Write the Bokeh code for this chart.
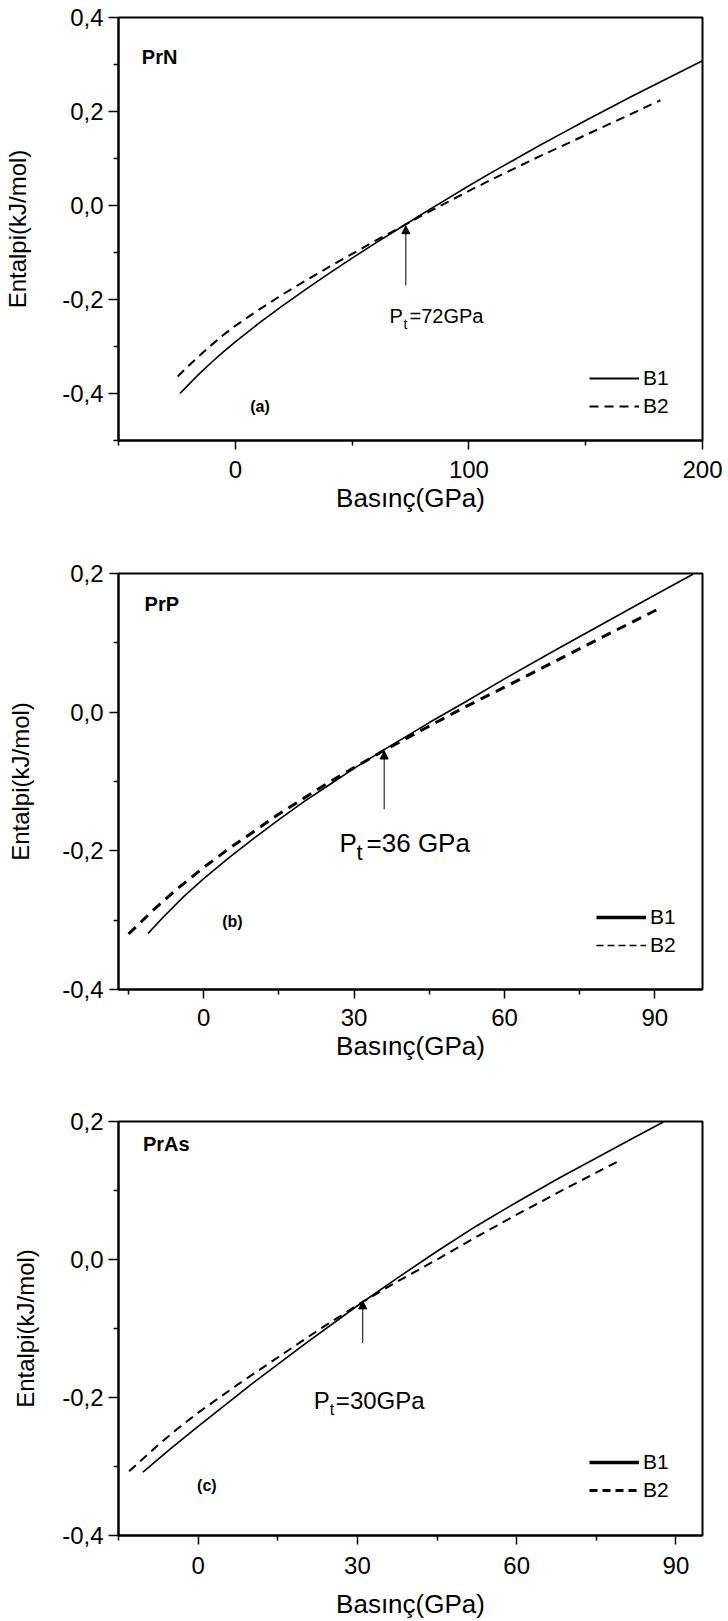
from bokeh.plotting import figure
from bokeh.models import (FixedTicker, CustomJSTickFormatter, Label, Arrow,
                          NormalHead, Legend, LegendItem)
from bokeh.layouts import column
from bokeh.embed import file_html
from bokeh.resources import INLINE

FONT = "Liberation Sans"
NAN = float("nan")

# ---------------- data ----------------
# (a) PrN
a_b1_x = [-23.7, -20, -15, -10, -5, 0, 10, 20, 30, 40, 50, 60, 72, 80, 90, 100,
          110, 120, 130, 140, 150, 160, 170, 180, 190, 200]
a_b1_y = [-0.400, -0.381, -0.356, -0.333, -0.311, -0.290, -0.251, -0.214, -0.179,
          -0.145, -0.112, -0.080, -0.043, -0.018, 0.012, 0.042, 0.071, 0.099,
          0.127, 0.154, 0.181, 0.207, 0.233, 0.258, 0.283, 0.308]
a_b2_x = [-24.7, -20, -15, -10, -5, 0, 10, 20, 30, 40, 50, 60, 72, 80, 90, 100,
          110, 120, 130, 140, 150, 160, 170, 182]
a_b2_y = [-0.364, -0.341, -0.318, -0.296, -0.275, -0.256, -0.222, -0.190, -0.160,
          -0.131, -0.103, -0.075, -0.043, -0.021, 0.005, 0.031, 0.056, 0.080,
          0.104, 0.127, 0.150, 0.173, 0.196, 0.224]
# (b) PrP
b_b1_x = [-11.1, -8, -4, 0, 5, 10, 15, 20, 25, 30, 36, 45, 52, 60, 70, 80, 90, 97.6]
b_b1_y = [-0.319, -0.295, -0.266, -0.240, -0.210, -0.182, -0.155, -0.129, -0.105,
          -0.081, -0.054, -0.015, 0.014, 0.048, 0.089, 0.129, 0.169, 0.199]
b_b2_x = [-15, -10, -5, 0, 5, 10, 15, 20, 25, 30, 36, 45, 52, 60, 70, 80, 91.3]
b_b2_y = [-0.320, -0.285, -0.253, -0.224, -0.197, -0.172, -0.147, -0.124, -0.101,
          -0.080, -0.055, -0.020, 0.007, 0.036, 0.073, 0.110, 0.151]
# (c) PrAs
c_b1_x = [-10.4, -5, 0, 10, 20, 30, 37.5, 45, 52.5, 60, 67.5, 75, 81, 87.8]
c_b1_y = [-0.308, -0.273, -0.242, -0.181, -0.123, -0.067, -0.027, 0.012, 0.049,
          0.083, 0.116, 0.147, 0.172, 0.200]
c_b2_x = [-13, -8, -4, 0, 7.5, 15, 22.5, 30, 37.5, 45, 52.5, 60, 70, 79.8]
c_b2_y = [-0.307, -0.272, -0.246, -0.222, -0.181, -0.142, -0.103, -0.066, -0.032,
          0.000, 0.033, 0.065, 0.106, 0.145]

a_xticks, a_xminor = [0, 100, 200], [-50, 50, 150]
a_yticks, a_yminor = [-0.4, -0.2, 0.0, 0.2, 0.4], [-0.5, -0.3, -0.1, 0.1, 0.3]
bc_xticks, bc_xminor = [0, 30, 60, 90], [-15, 15, 45, 75]
bc_yticks, bc_yminor = [-0.4, -0.2, 0.0, 0.2], [-0.3, -0.1, 0.1]

series_names = ["B1", "B2"]
x_title = "Basınç(GPa)"
y_title = "Entalpi(kJ/mol)"

fmt = CustomJSTickFormatter(code="""
var s = tick.toFixed(1).replace('.', ',');
if (s == '-0,0') { s = '0,0'; }
return s;
""")


def panel(h, xr, yr, xt, xm, yt, ym, bl, br, bt, bb, ylab_std, xlab_std,
          ytick_std, xtick_std, ytick_out):
    p = figure(width=728, height=h, x_range=xr, y_range=yr,
               output_backend="svg", toolbar_location=None,
               min_border_left=bl, min_border_right=br,
               min_border_top=bt, min_border_bottom=bb)
    p.xgrid.visible = False
    p.ygrid.visible = False
    p.outline_line_color = "black"
    p.outline_line_width = 2
    p.outline_line_alpha = 1
    p.background_fill_color = "white"
    p.border_fill_color = "white"
    p.xaxis.ticker = FixedTicker(ticks=xt, minor_ticks=xm)
    p.yaxis.ticker = FixedTicker(ticks=yt, minor_ticks=ym)
    p.yaxis.formatter = fmt
    for ax in (p.xaxis[0], p.yaxis[0]):
        ax.axis_line_width = 2
        ax.axis_line_color = "black"
        ax.major_tick_line_width = 1.5
        ax.minor_tick_line_width = 1.5
        ax.major_tick_out = 9
        ax.major_tick_in = 0
        ax.minor_tick_out = 5
        ax.minor_tick_in = 0
        ax.major_label_text_font = FONT
        ax.major_label_text_font_size = "24px"
        ax.major_label_text_color = "black"
        ax.axis_label_text_font = FONT
        ax.axis_label_text_font_style = "normal"
        ax.axis_label_text_color = "black"
    p.yaxis.major_tick_out = ytick_out
    p.xaxis.axis_label_text_font_size = "26px"
    p.yaxis.axis_label_text_font_size = "24px"
    p.xaxis.axis_label = x_title
    p.yaxis.axis_label = y_title
    p.yaxis.axis_label_standoff = ylab_std
    p.xaxis.axis_label_standoff = xlab_std
    p.yaxis.major_label_standoff = ytick_std
    p.xaxis.major_label_standoff = xtick_std
    return p


def add_texts(p, name, name_xy, tag, tag_xy, pt_xy, pt_rest, pt_size, sub_size,
              sub_dx, rest_dx, sub_dy, arrow):
    common = dict(text_font=FONT, text_color="black", text_baseline="middle",
                  text_align="left")
    p.add_layout(Label(x=name_xy[0], y=name_xy[1], text=name,
                       text_font_size="20px", text_font_style="bold", **common))
    p.add_layout(Label(x=tag_xy[0], y=tag_xy[1], text=tag,
                       text_font_size="16px", text_font_style="bold", **common))
    p.add_layout(Label(x=pt_xy[0], y=pt_xy[1], text="P",
                       text_font_size=pt_size, **common))
    p.add_layout(Label(x=pt_xy[0], y=pt_xy[1], text="t",
                       text_font_size=sub_size, x_offset=sub_dx, y_offset=sub_dy,
                       **common))
    p.add_layout(Label(x=pt_xy[0], y=pt_xy[1], text=pt_rest,
                       text_font_size=pt_size, x_offset=rest_dx, **common))
    ax, y0, y1 = arrow
    p.add_layout(Arrow(end=NormalHead(size=8, fill_color="black",
                                      line_color="black", line_width=1),
                       x_start=ax, y_start=y0, x_end=ax, y_end=y1,
                       line_color="black", line_width=1))


def add_legend(p, loc, w1, d2, w2):
    r1 = p.line([NAN], [NAN], line_color="black", line_width=w1)
    r2 = p.line([NAN], [NAN], line_color="black", line_width=w2, line_dash=d2)
    leg = Legend(items=[LegendItem(label=series_names[0], renderers=[r1]),
                        LegendItem(label=series_names[1], renderers=[r2])],
                 location=loc, border_line_alpha=0, background_fill_alpha=0,
                 padding=0, margin=0, spacing=4, glyph_width=50,
                 glyph_height=20, label_height=20, label_standoff=4,
                 label_text_font=FONT, label_text_font_size="21px",
                 label_text_color="black")
    p.add_layout(leg)


# ---- (a)
pa = panel(540, (-50, 200), (-0.5, 0.4), a_xticks, a_xminor, a_yticks, a_yminor,
           118, 23, 17, 100, 28, 2, 5, 11, 10)
pa.line(a_b1_x, a_b1_y, line_color="black", line_width=1.6)
pa.line(a_b2_x, a_b2_y, line_color="black", line_width=2, line_dash="9 6")
add_texts(pa, "PrN", (-40, 0.317), "(a)", (6.4, -0.428), (66, -0.236), "=72GPa",
          "20px", "14px", 14, 20, -8, (73, -0.17, -0.043))
add_legend(pa, (471, 22), 2, "9 6", 2)

# ---- (b)
pb = panel(540, (-17, 99.5), (-0.4, 0.2), bc_xticks, bc_xminor, bc_yticks, bc_yminor,
           114, 25, 33, 91, 25, 2, 6, 10, 9)
pb.line(b_b1_x, b_b1_y, line_color="black", line_width=1.6)
pb.line(b_b2_x, b_b2_y, line_color="black", line_width=3, line_dash="10 7")
add_texts(pb, "PrP", (-11.8, 0.156), "(b)", (3.7, -0.302), (27.1, -0.189), "=36 GPa",
          "26px", "22px", 17, 27, -9, (36, -0.14, -0.056))
add_legend(pb, (478, 32), 3.5, "7 4", 1.5)

# ---- (c)
pc = panel(541, (-15, 95), (-0.4, 0.2), bc_xticks, bc_xminor, bc_yticks, bc_yminor,
           112, 26, 41, 79, 20, 12, 5, 12, 10)
pc.line(c_b1_x, c_b1_y, line_color="black", line_width=1.6)
pc.line(c_b2_x, c_b2_y, line_color="black", line_width=2, line_dash="9 6")
add_texts(pc, "PrAs", (-10.4, 0.167), "(c)", (-0.2, -0.327), (21.8, -0.204), "=30GPa",
          "24px", "16px", 16, 22, -9, (31, -0.121, -0.06))
add_legend(pc, (471, 33), 3.5, "8 5", 3)

p = column(pa, pb, pc)
open("out.html", "w").write(file_html(p, INLINE))
